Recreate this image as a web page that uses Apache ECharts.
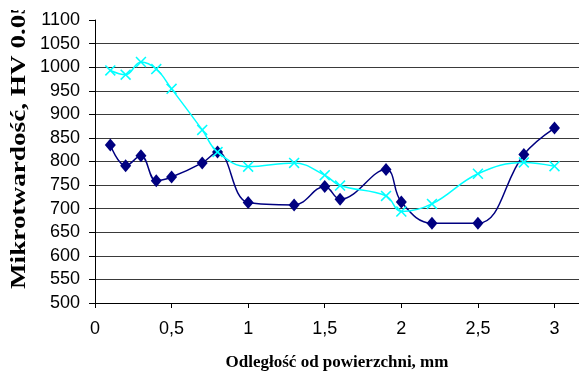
<!DOCTYPE html>
<html>
<head>
<meta charset="utf-8">
<script src="https://cdn.jsdelivr.net/npm/echarts@6/dist/echarts.min.js"></script>
<style>html,body{margin:0;padding:0;background:#fff}#c{width:579px;height:376px}</style>
</head>
<body>
<div id="c"></div>
<script>
const xTitle = 'Odległość od powierzchni, mm';
const yTitle = 'Mikrotwardość, HV 0.05';
const xSeries1 = [0.1, 0.2, 0.3, 0.4, 0.5, 0.7, 0.8, 1.0, 1.3, 1.5, 1.6, 1.9, 2.0, 2.2, 2.5, 2.8, 3.0];
const ySeries1 = [835, 791, 812, 759, 767, 797, 820, 713, 708, 747, 720, 783, 714, 669, 669, 815, 871];
const xSeries2 = [0.1, 0.2, 0.3, 0.4, 0.5, 0.7, 0.8, 1.0, 1.3, 1.5, 1.6, 1.9, 2.0, 2.2, 2.5, 2.8, 3.0];
const ySeries2 = [993, 984, 1011, 996, 954, 867, 820, 789, 797, 771, 749, 727, 694, 710, 774, 798, 790];
const yMin = 500, yMax = 1100, yStep = 50;
const xMin = 0, xMax = 3.16, xStep = 0.5;

const crossPath = 'path://M0,1L1,0L5,4L9,0L10,1L6,5L10,9L9,10L5,6L1,10L0,9L4,5Z';
const chart = echarts.init(document.getElementById('c'), null, {renderer: 'canvas'});
chart.setOption({
  backgroundColor: '#fff',
  animation: false,
  grid: {left: 95, right: 0, top: 20, bottom: 68, containLabel: false},
  xAxis: {
    type: 'value', min: xMin, max: xMax, interval: xStep,
    axisLine: {show: true, lineStyle: {color: '#000', width: 1}},
    axisTick: {show: true, inside: false, length: 5, lineStyle: {color: '#000'}},
    axisLabel: {
      margin: 17, color: '#000', fontFamily: 'Liberation Sans', fontSize: 18,
      showMaxLabel: false,
      formatter: v => String(v).replace('.', ',')
    },
    splitLine: {show: false},
    name: xTitle, nameLocation: 'middle', nameGap: 51,
    nameTextStyle: {fontFamily: 'Liberation Serif', fontWeight: 'bold', fontSize: 17, color: '#000'}
  },
  yAxis: {
    type: 'value', min: yMin, max: yMax, interval: yStep,
    axisLine: {show: true, lineStyle: {color: '#000', width: 1}},
    axisTick: {show: true, inside: false, length: 6, lineStyle: {color: '#000'}},
    axisLabel: {margin: 15, color: '#000', fontFamily: 'Liberation Sans', fontSize: 18,
                formatter: v => String(v)},
    splitLine: {show: true, showMinLine: false, showMaxLine: false, lineStyle: {color: '#3a3a3a', width: 1}}
  },
  graphic: [
    {
      type: 'text', x: 20, y: 145, rotation: Math.PI / 2, scaleX: 1.36, scaleY: 1,
      style: {text: yTitle, fontFamily: 'Liberation Serif', fontWeight: 'bold', fontSize: 20,
              fill: '#000', align: 'center', verticalAlign: 'middle'}
    },
    {type: 'rect', shape: {x: 0, y: 0, width: 40, height: 10}, style: {fill: '#fff'}, z: 100}
  ],
  series: [
    {
      type: 'line', data: xSeries1.map((x, i) => [x, ySeries1[i]]),
      smooth: 0.4, symbol: 'diamond', symbolSize: [11, 13],
      lineStyle: {color: '#000080', width: 1.5},
      itemStyle: {color: '#000080'}, z: 2
    },
    {
      type: 'line', data: xSeries2.map((x, i) => [x, ySeries2[i]]),
      smooth: 0.4, symbol: crossPath, symbolSize: 11,
      lineStyle: {color: '#00ffff', width: 1.5},
      itemStyle: {color: '#00ffff'}, z: 3
    }
  ]
});
</script>
</body>
</html>
